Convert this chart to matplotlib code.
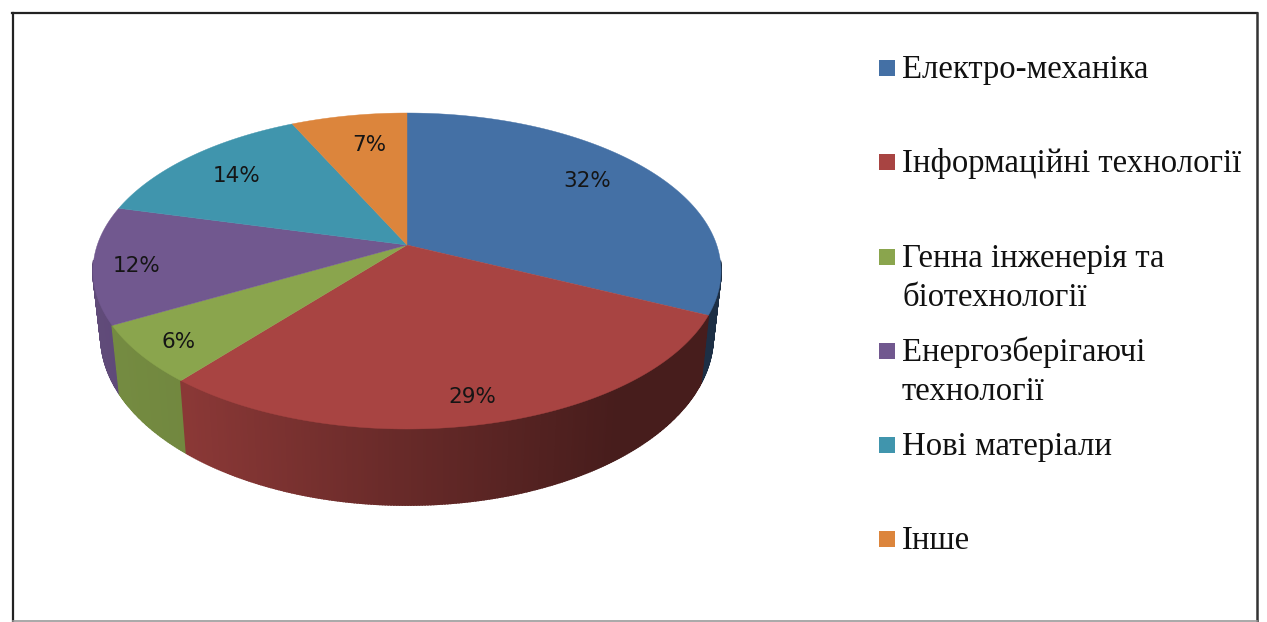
import numpy as np
import matplotlib
matplotlib.use("Agg")
import matplotlib.pyplot as plt
from matplotlib.colors import to_rgb
from matplotlib.patches import Rectangle

labels = ["Електро-механіка", "Інформаційні технології",
          "Генна інженерія та\nбіотехнології", "Енергозберігаючі\nтехнології",
          "Нові матеріали", "Інше"]
values = [32, 29, 6, 12, 14, 7]
colors = ["#4470a5", "#a84442", "#8aa54d", "#71588f", "#4095ad", "#dc853c"]

# layout in picture pixels
W, H = 1267, 622
CX, CY = 407, 271  # centre of the top ellipse
RX, RY = 314, 158
APEX_UP = 26  # the pie centre sits above the ellipse centre (perspective)
label_pos = [(587, 181), (472, 397), (179, 342), (137, 266), (237, 176), (369, 145)]
legend_y = [68, 162, 257, 351, 445, 539]


def rim(angle):
    # perspective projection of the unit circle, relative to the ellipse centre
    k = APEX_UP / RY
    x, y = np.cos(angle), np.sin(angle)
    den = 1 + k * y
    return RX * np.sqrt(1 - k * k) * x / den, (RY * y + APEX_UP) / den


def to_top(px, py):
    return CX + px, CY - py


def to_bottom(px, py):
    return CX + 0.975 * px, CY - (1.07 * py - 65)


def shade(x):
    return np.interp(x, [93, 190, 400, 620, 721], [0.85, 0.82, 0.62, 0.42, 0.42])


fig = plt.figure(figsize=(W / 100, H / 100), dpi=100)
ax = fig.add_axes([0, 0, 1, 1])
ax.set_xlim(0, W)
ax.set_ylim(H, 0)
ax.axis("off")

edges = np.radians(90 - 3.6 * np.cumsum([0] + values))

# side wall, back strips first
strips = []
for i in range(len(values)):
    n = max(int(values[i] * 8), 2)
    ang = np.linspace(edges[i], edges[i + 1], n)
    for a0, a1 in zip(ang[:-1], ang[1:]):
        if np.sin((a0 + a1) / 2) > -0.1:
            continue
        x0, y0 = to_top(*rim(a0))
        x1, y1 = to_top(*rim(a1))
        x2, y2 = to_bottom(*rim(a1))
        x3, y3 = to_bottom(*rim(a0))
        c = np.array(to_rgb(colors[i])) * shade((x0 + x1) / 2)
        strips.append((y0 + y1, [x0, x1, x2, x3], [y0, y1, y2, y3], c))
strips.sort(key=lambda s: s[0])
for _, xs, ys, c in strips:
    ax.fill(xs, ys, color=c, lw=1.2, zorder=1)

# top face
apex_x, apex_y = to_top(0, APEX_UP)
for i in range(len(values)):
    ang = np.linspace(edges[i], edges[i + 1], 120)
    px, py = to_top(*rim(ang))
    ax.fill(np.r_[apex_x, px], np.r_[apex_y, py], color=colors[i], lw=0.3, zorder=2)

for v, (x, y) in zip(values, label_pos):
    ax.text(x, y, "%d%%" % v, ha="center", va="center", fontsize=15.5,
            family="DejaVu Sans", color="#151515", zorder=3)

# legend
for name, y, c in zip(labels, legend_y, colors):
    ax.add_patch(Rectangle((879, y - 8), 16, 16, facecolor=c, edgecolor="none"))
    for j, line in enumerate(name.split("\n")):
        ax.text(902, y + 10 + j * 39, line, ha="left", va="baseline", fontsize=23.6,
                family="Liberation Serif", color="#111111")

# frame
ax.plot([13, 13], [13, H], color="#222222", lw=1.6)
ax.plot([12, 1257], [13, 13], color="#222222", lw=1.6)
ax.plot([1257, 1257], [13, H], color="#333333", lw=1.8)
ax.plot([13, 1257], [621, 621], color="#999999", lw=1.2)

fig.savefig("out.png", dpi=100)
